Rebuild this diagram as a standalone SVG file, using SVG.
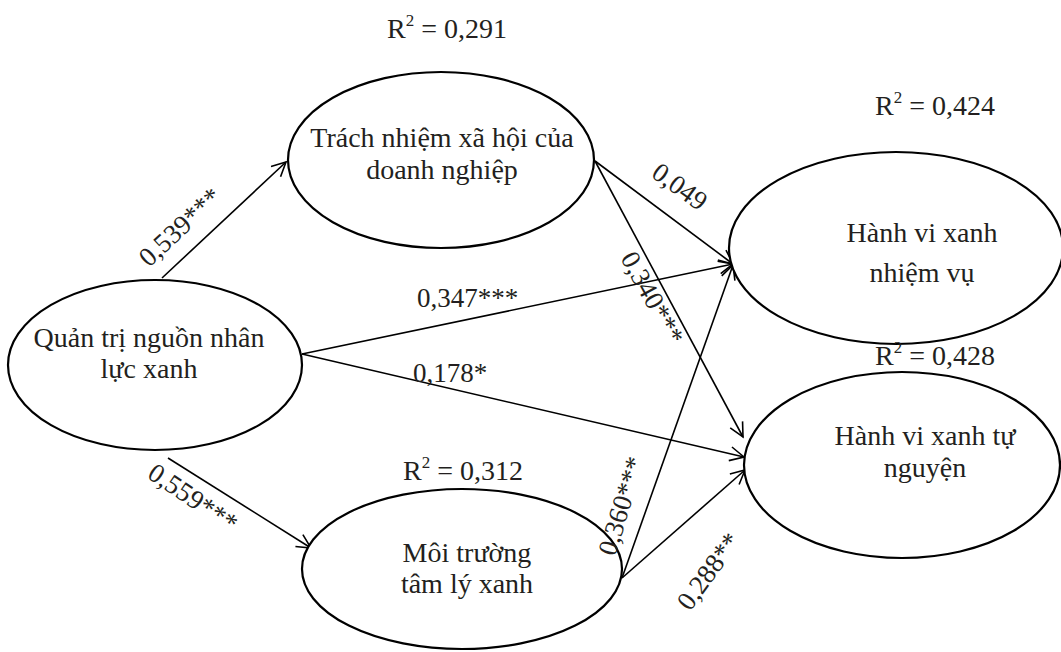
<svg xmlns="http://www.w3.org/2000/svg" width="1061" height="652" viewBox="0 0 1061 652">
<defs>
<style>
.node{fill:#fff;stroke:#000;stroke-width:2.2}
.t{font-family:"Liberation Serif","Times New Roman",serif;font-size:28px;fill:#231f20}
.c{text-anchor:middle}
.lbl{font-family:"Liberation Serif","Times New Roman",serif;font-size:27px;fill:#231f20}
.edge{fill:none;stroke:#000;stroke-width:1.6;marker-end:url(#arr)}
</style>
<marker id="arr" markerUnits="userSpaceOnUse" markerWidth="18" markerHeight="18" refX="15" refY="8" orient="auto">
<path d="M1,1 L15,8 L1,15" fill="none" stroke="#000" stroke-width="1.6"/>
</marker>
</defs>
<rect width="1061" height="652" fill="#fff"/>
<g id="connectors">
<line class="edge" x1="162" y1="278" x2="286" y2="162"/>
<line class="edge" x1="595" y1="161" x2="733" y2="264"/>
<line class="edge" x1="595" y1="161" x2="743" y2="437"/>
<line class="edge" x1="302" y1="354" x2="733" y2="264"/>
<line class="edge" x1="302" y1="354" x2="744" y2="457"/>
<line class="edge" x1="168" y1="458" x2="311" y2="548"/>
<line class="edge" x1="622" y1="578" x2="733" y2="265"/>
<line class="edge" x1="622" y1="578" x2="745" y2="470"/>
</g>
<g id="node-qtnnl">
<ellipse class="node" cx="155" cy="365" rx="147" ry="85"/>
<text class="t c" x="149" y="347">Quản trị nguồn nhân</text>
<text class="t c" x="149" y="378">lực xanh</text>
</g>
<g id="node-tnxh">
<ellipse class="node" cx="441" cy="160" rx="153" ry="88"/>
<text class="t c" x="442" y="147">Trách nhiệm xã hội của</text>
<text class="t c" x="442" y="179">doanh nghiệp</text>
</g>
<g id="node-hvxnv">
<ellipse class="node" cx="896" cy="248" rx="167" ry="96"/>
<text class="t c" x="922" y="242">Hành vi xanh</text>
<text class="t c" x="922" y="282">nhiệm vụ</text>
</g>
<g id="node-hvxtn">
<ellipse class="node" cx="902" cy="465" rx="158" ry="93"/>
<text class="t c" x="925" y="445">Hành vi xanh tự</text>
<text class="t c" x="925" y="477">nguyện</text>
</g>
<g id="node-mtlx">
<ellipse class="node" cx="462" cy="569" rx="160" ry="80"/>
<text class="t c" x="467" y="562">Môi trường</text>
<text class="t c" x="467" y="593">tâm lý xanh</text>
</g>
<g id="r2-labels">
<text class="t" x="387" y="38">R<tspan dy="-12" font-size="17">2</tspan><tspan dy="12"> = 0,291</tspan></text>
<text class="t" x="875" y="115">R<tspan dy="-12" font-size="17">2</tspan><tspan dy="12"> = 0,424</tspan></text>
<text class="t" x="875" y="365">R<tspan dy="-12" font-size="17">2</tspan><tspan dy="12"> = 0,428</tspan></text>
<text class="t" x="403" y="480">R<tspan dy="-12" font-size="17">2</tspan><tspan dy="12"> = 0,312</tspan></text>
</g>
<g id="edge-labels">
<text class="lbl" transform="translate(149,268) rotate(-43)">0,539***</text>
<text class="lbl" transform="translate(650,176) rotate(36)">0,049</text>
<text class="lbl" transform="translate(620,258) rotate(61)">0,340***</text>
<text class="lbl" x="417" y="307">0,347***</text>
<text class="lbl" x="413" y="382">0,178*</text>
<text class="lbl" transform="translate(146,477) rotate(34)">0,559***</text>
<text class="lbl" transform="translate(615,557) rotate(-73)">0,360***</text>
<text class="lbl" transform="translate(690,612) rotate(-54)">0,288**</text>
</g>
</svg>
